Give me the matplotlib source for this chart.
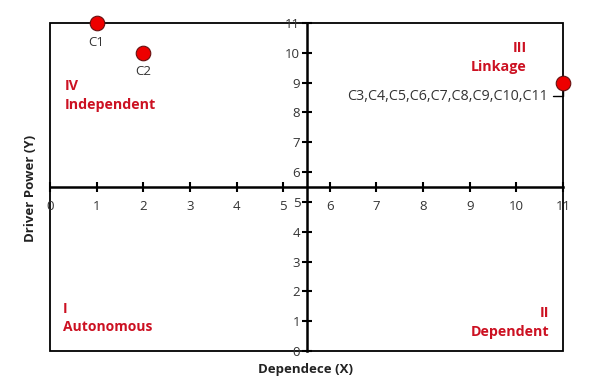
import matplotlib
matplotlib.use("Agg")
import matplotlib.pyplot as plt
from matplotlib.patches import Rectangle

plt.rcParams['font.family'] = ['Open Sans', 'DejaVu Sans']

labels = ["C1", "C2", "C3,C4,C5,C6,C7,C8,C9,C10,C11"]
dependence = [1, 2, 11]
driver_power = [11, 10, 9]
ticks = list(range(0, 12))
quadrants = ["IV\nIndependent", "III\nLinkage", "I\nAutonomous", "II\nDependent"]

fig = plt.figure(figsize=(6, 3.92), dpi=100)
ax = fig.add_axes([50/600, 1-351/392, 513/600, 328/392])
ax.set_xlim(0, 11)
ax.set_ylim(0, 11)

for s in ['top', 'right']:
    ax.spines[s].set_visible(False)
ax.spines['left'].set_position(('data', 5.5))
ax.spines['bottom'].set_position(('data', 5.5))
ax.spines['left'].set_linewidth(1.8)
ax.spines['bottom'].set_linewidth(1.8)
ax.add_patch(Rectangle((0, 0), 1, 1, transform=ax.transAxes, fill=False,
                       lw=1.3, ec='black', clip_on=False, zorder=1))

ax.set_xticks(ticks)
ax.set_yticks(ticks)
ax.tick_params(axis='both', direction='inout', length=7, width=1.5,
               labelsize=9.5, labelcolor='#333333', pad=1)
ax.tick_params(axis='x', pad=6)

ax.scatter(dependence, driver_power, s=110, c='#ee0000', edgecolors='#661111',
           linewidths=0.8, zorder=5, clip_on=False)

ax.text(dependence[0], driver_power[0] - 0.42, labels[0], ha='center', va='top',
        fontsize=9.5, color='#333333')
ax.text(dependence[1], driver_power[1] - 0.42, labels[1], ha='center', va='top',
        fontsize=9.5, color='#333333')
ax.annotate(labels[2], xy=(dependence[2], driver_power[2]), xytext=(10.67, 8.55),
            ha='right', va='center', fontsize=10.3, color='#333333',
            arrowprops=dict(arrowstyle='-', color='black', lw=1,
                            connectionstyle='angle,angleA=0,angleB=90,rad=0',
                            shrinkA=2, shrinkB=0))

red = '#cc1122'
ax.text(0.32, 9.12, quadrants[0], ha='left', va='top', color=red,
        fontsize=10.3, fontweight='bold', linespacing=1.45)
ax.text(10.22, 10.4, quadrants[1], ha='right', va='top', color=red,
        fontsize=10.3, fontweight='bold', multialignment='right', linespacing=1.45)
ax.text(0.28, 1.66, quadrants[2], ha='left', va='top', color=red,
        fontsize=10, fontweight='bold', linespacing=1.45)
ax.text(10.7, 1.52, quadrants[3], ha='right', va='top', color=red,
        fontsize=10.3, fontweight='bold', multialignment='right', linespacing=1.45)

fig.text(305/600, 1-370/392, "Dependece (X)", ha='center', va='center',
         fontsize=9.5, fontweight='bold', color='#222222')
fig.text(30/600, 1-188/392, "Driver Power (Y)", ha='center', va='center',
         rotation=90, fontsize=9.5, fontweight='bold', color='#222222')

fig.savefig("out.png", dpi=100)
